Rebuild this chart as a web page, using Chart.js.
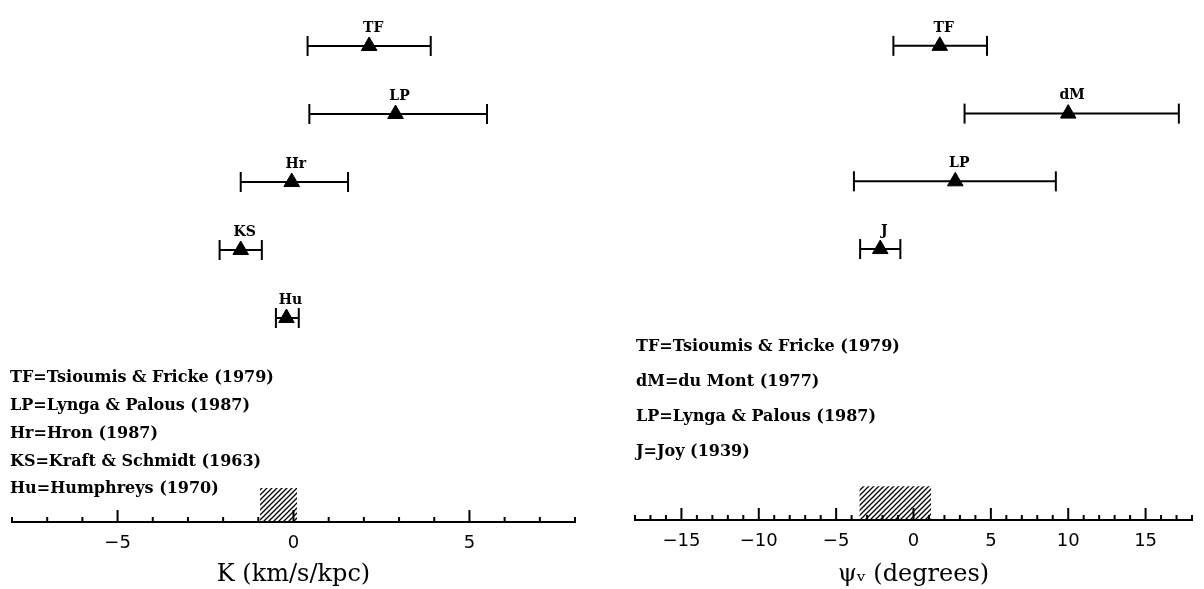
<!DOCTYPE html>
<html>
<head>
<meta charset="utf-8">
<script src="https://cdn.jsdelivr.net/npm/chart.js@4.4.1/dist/chart.umd.min.js"></script>
<style>
  html, body { margin: 0; padding: 0; background: #fff; }
  #wrap { position: relative; width: 1204px; height: 589px; }
  #left { position: absolute; left: 0; top: 0; }
  #right { position: absolute; left: 600px; top: 0; }
</style>
</head>
<body>
<div id="wrap">
  <canvas id="left" width="600" height="589"></canvas>
  <canvas id="right" width="604" height="589"></canvas>
</div>
<script>
// left panel, K (km/s/kpc)
const leftNames = ['TF', 'LP', 'Hr', 'KS', 'Hu'];
const leftRows = [5, 4, 3, 2, 1];
const leftK = [2.15, 2.9, -0.05, -1.5, -0.2];
const leftLow = [0.4, 0.45, -1.5, -2.1, -0.5];
const leftHigh = [3.9, 5.5, 1.55, -0.9, 0.15];
const leftBand = [-0.95, 0.1];
const leftTicks = [-5, 0, 5];
const leftRefs = [
    'TF=Tsioumis & Fricke (1979)',
    'LP=Lynga & Palous (1987)',
    'Hr=Hron (1987)',
    'KS=Kraft & Schmidt (1963)',
    'Hu=Humphreys (1970)'
];

// right panel, psi_v (degrees)
const rightNames = ['TF', 'dM', 'LP', 'J'];
const rightRows = [5, 4, 3, 2];
const rightPsi = [1.7, 10.0, 2.7, -2.15];
const rightLow = [-1.3, 3.3, -3.85, -3.45];
const rightHigh = [4.75, 17.15, 9.2, -0.85];
const rightBand = [-3.5, 1.15];
const rightTicks = [-15, -10, -5, 0, 5, 10, 15];
const rightRefs = [
    'TF=Tsioumis & Fricke (1979)',
    'dM=du Mont (1977)',
    'LP=Lynga & Palous (1987)',
    'J=Joy (1939)'
];

const bandTop = -1.5;
const serif = '"DejaVu Serif", serif';

function hatch() {
    const c = document.createElement('canvas');
    c.width = 5; c.height = 5;
    const g = c.getContext('2d');
    g.strokeStyle = '#000';
    g.lineWidth = 1.3;
    g.beginPath();
    g.moveTo(0, 5); g.lineTo(5, 0);
    g.moveTo(-1, 1); g.lineTo(1, -1);
    g.moveTo(4, 6); g.lineTo(6, 4);
    g.stroke();
    return g.createPattern(c, 'repeat');
}

function fmt(v) {
    return v < 0 ? '\u2212' + Math.abs(v) : String(v);
}

const annot = {
    id: 'annot',
    afterDraw(chart, args, o) {
        const ctx = chart.ctx;
        ctx.save();
        ctx.fillStyle = '#000';
        ctx.strokeStyle = '#000';

        // names above the triangles
        ctx.font = 'bold 14px ' + serif;
        ctx.textAlign = 'center';
        ctx.textBaseline = 'middle';
        chart.getDatasetMeta(0).data.forEach((pt, i) => {
            ctx.fillText(o.names[i], pt.x + 4, pt.y - 18);
        });

        // ticks pointing up from the axis
        const xs = chart.scales.x;
        ctx.lineWidth = 2;
        xs.ticks.forEach(t => {
            const px = xs.getPixelForValue(t.value);
            const len = o.major.includes(t.value) ? 12 : 5;
            ctx.beginPath();
            ctx.moveTo(px, xs.top);
            ctx.lineTo(px, xs.top - len);
            ctx.stroke();
        });

        // reference list
        ctx.textAlign = 'left';
        ctx.font = 'bold 16px ' + serif;
        o.refs.forEach((s, i) => {
            ctx.fillText(s, o.refX, o.refY + i * o.refDy);
        });
        ctx.restore();
    }
};

function makeChart(id, cfg) {
    const datasets = [{
        type: 'scatter',
        data: cfg.rows.map((r, i) => ({ x: cfg.vals[i], y: r })),
        pointStyle: 'triangle',
        pointRadius: 9,
        backgroundColor: '#000',
        borderColor: '#000',
        borderWidth: 1
    }];
    cfg.rows.forEach((r, i) => {
        datasets.push({
            type: 'line',
            data: [{ x: cfg.low[i], y: r }, { x: cfg.high[i], y: r }],
            borderColor: '#000',
            borderWidth: 2,
            pointStyle: 'line',
            rotation: 90,
            pointRadius: 10,
            pointBorderWidth: 2,
            pointBorderColor: '#000',
            fill: false
        });
    });
    datasets.push({
        type: 'line',
        data: [{ x: cfg.band[0], y: bandTop }, { x: cfg.band[1], y: bandTop }],
        borderWidth: 0,
        pointRadius: 0,
        backgroundColor: hatch(),
        fill: 'start'
    });

    return new Chart(document.getElementById(id), {
        type: 'scatter',
        data: { datasets: datasets },
        options: {
            responsive: false,
            animation: false,
            events: [],
            layout: { padding: cfg.pad },
            plugins: {
                legend: { display: false },
                tooltip: { enabled: false },
                annot: {
                    names: cfg.names,
                    major: cfg.major,
                    refs: cfg.refs,
                    refX: cfg.refX,
                    refY: cfg.refY,
                    refDy: cfg.refDy
                }
            },
            scales: {
                x: {
                    type: 'linear',
                    min: cfg.min,
                    max: cfg.max,
                    afterFit: (s) => { s.height = cfg.axisH; },
                    grid: { display: true, drawOnChartArea: false, drawTicks: false, color: 'rgba(0,0,0,0)' },
                    border: { display: true, color: '#000', width: 2 },
                    ticks: {
                        stepSize: 1,
                        autoSkip: false,
                        maxRotation: 0,
                        padding: 11,
                        color: '#000',
                        font: { family: '"DejaVu Sans", sans-serif', size: 18 },
                        callback: (v) => cfg.major.includes(v) ? fmt(v) : ''
                    },
                    title: {
                        display: true,
                        text: cfg.title,
                        color: '#000',
                        font: { family: serif, size: 24 },
                        padding: { top: 0, bottom: 0 }
                    }
                },
                y: {
                    type: 'linear',
                    display: false,
                    min: -2,
                    max: 5.5
                }
            }
        },
        plugins: [annot]
    });
}

makeChart('left', {
    names: leftNames, rows: leftRows, vals: leftK, low: leftLow, high: leftHigh,
    band: leftBand, major: leftTicks, refs: leftRefs,
    min: -8, max: 8, title: 'K (km/s/kpc)',
    pad: { left: 9, right: 25, top: 3, bottom: 0 }, axisH: 67,
    refX: 10, refY: 378, refDy: 27.8
});

makeChart('right', {
    names: rightNames, rows: rightRows, vals: rightPsi, low: rightLow, high: rightHigh,
    band: rightBand, major: rightTicks, refs: rightRefs,
    min: -18, max: 18, title: '\u03C8\u1D65 (degrees)',
    pad: { left: 35, right: 8, top: 1, bottom: 0 }, axisH: 69,
    refX: 36, refY: 347, refDy: 35
});
</script>
</body>
</html>
